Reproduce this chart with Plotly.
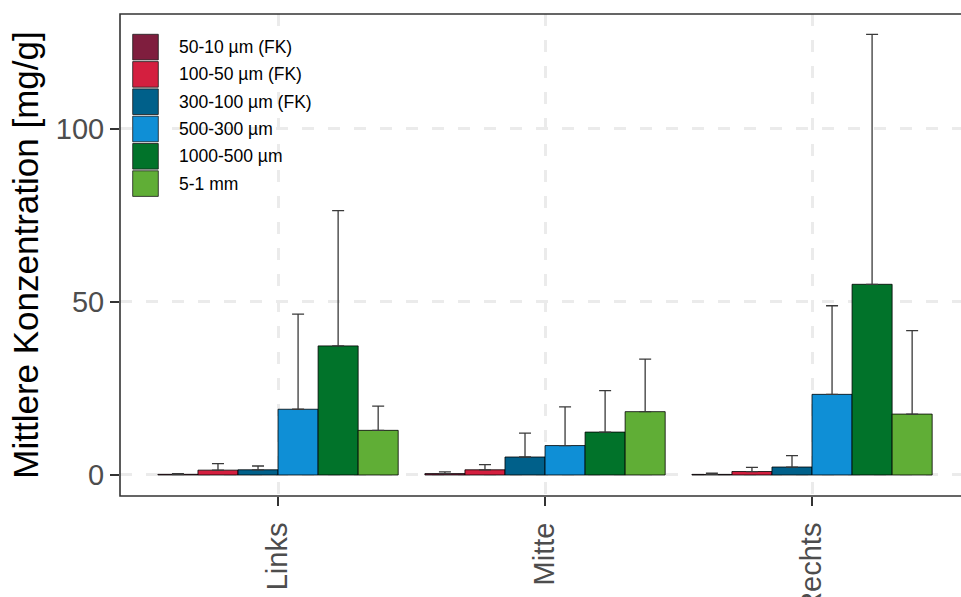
import plotly.graph_objects as go

# Sampling sites along the transect
sites = ["Links", "Mitte", "Rechts"]

# Particle size classes (legend order) and their fill colours
size_classes = ["50-10 µm (FK)", "100-50 µm (FK)", "300-100 µm (FK)",
                "500-300 µm", "1000-500 µm", "5-1 mm"]
class_colors = ["#7F1E3E", "#D41F3F", "#00608A", "#0F8FD6", "#01732A", "#60AE36"]

# Mean concentration [mg/g] per size class, one value per site
mean_50_10 = [0.2, 0.4, 0.15]
mean_100_50 = [1.4, 1.5, 1.0]
mean_300_100 = [1.5, 5.2, 2.3]
mean_500_300 = [19.0, 8.5, 23.3]
mean_1000_500 = [37.3, 12.4, 55.1]
mean_5_1 = [12.9, 18.3, 17.6]

# Upper spread (standard deviation) drawn above each mean
sd_50_10 = [0.2, 0.5, 0.35]
sd_100_50 = [1.9, 1.5, 1.2]
sd_300_100 = [1.1, 6.9, 3.3]
sd_500_300 = [27.5, 11.2, 25.6]
sd_1000_500 = [39.1, 12.0, 72.2]
sd_5_1 = [7.0, 15.2, 24.1]

means = [mean_50_10, mean_100_50, mean_300_100, mean_500_300, mean_1000_500, mean_5_1]
sds = [sd_50_10, sd_100_50, sd_300_100, sd_500_300, sd_1000_500, sd_5_1]

W, H = 961, 597
L, R, T, B = 120, 0, 14, 101
plot_w = W - L - R
plot_h = H - T - B


def px_x(x):
    return (x - L) / plot_w


def px_y(y):
    return (H - B - y) / plot_h


fig = go.Figure()
for name, color, m, s in zip(size_classes, class_colors, means, sds):
    fig.add_trace(go.Bar(
        x=sites, y=m, name=name,
        marker=dict(color=color, line=dict(color="#000000", width=0.8)),
        error_y=dict(type="data", symmetric=False, array=s,
                     arrayminus=[0] * len(s), color="#3a3a3a",
                     thickness=1.3, width=6),
        showlegend=False,
    ))

# Panel border (right edge runs past the canvas)
shapes = [dict(type="rect", xref="paper", yref="paper", x0=0, x1=1.05, y0=0, y1=1,
               line=dict(color="#333333", width=1.6), fillcolor="rgba(0,0,0,0)",
               layer="above")]

# Legend keys and labels inside the panel
annotations = []
key_left, key_right, key_top, row_h, key_h = 132.7, 158.3, 34.3, 27.3, 25.6
for i, (name, color) in enumerate(zip(size_classes, class_colors)):
    y0 = key_top + i * row_h
    shapes.append(dict(type="rect", xref="paper", yref="paper",
                       x0=px_x(key_left), x1=px_x(key_right),
                       y0=px_y(y0 + key_h), y1=px_y(y0),
                       fillcolor=color, line=dict(color="#1a1a1a", width=0.8),
                       layer="above"))
    annotations.append(dict(xref="paper", yref="paper",
                            x=px_x(176.5), y=px_y(y0 + key_h / 2),
                            text=name, showarrow=False, xanchor="left", yanchor="middle",
                            font=dict(size=17.5, color="#000000",
                                      family="Liberation Sans, Arial, sans-serif")))

fig.update_layout(
    width=W, height=H,
    margin=dict(l=L, r=R, t=T, b=B, pad=0, autoexpand=False),
    paper_bgcolor="white", plot_bgcolor="white",
    barmode="group", bargap=0.1, bargroupgap=0,
    font=dict(family="Liberation Sans, Arial, sans-serif"),
    shapes=shapes, annotations=annotations,
    showlegend=False,
)

fig.update_xaxes(
    type="category", range=[-0.592, 2.558], automargin=False,
    showgrid=True, gridcolor="#EBEBEB", gridwidth=2.5, griddash="12px,14px",
    ticks="outside", ticklen=9, tickwidth=2, tickcolor="#333333",
    tickangle=-90, tickfont=dict(size=29, color="#4D4D4D"), ticklabelstandoff=5,
    showline=False, zeroline=False,
)
fig.update_yaxes(
    range=[-6.07, 133.2], tickvals=[0, 50, 100], automargin=False,
    showgrid=True, gridcolor="#EBEBEB", gridwidth=2.5, griddash="12px,14px",
    ticks="outside", ticklen=9, tickwidth=2, tickcolor="#333333",
    tickfont=dict(size=29, color="#4D4D4D"),
    showline=False, zeroline=False,
    title=dict(text="Mittlere Konzentration [mg/g]", standoff=6,
               font=dict(size=35, color="#000000")),
)

fig.write_html("out.html")
